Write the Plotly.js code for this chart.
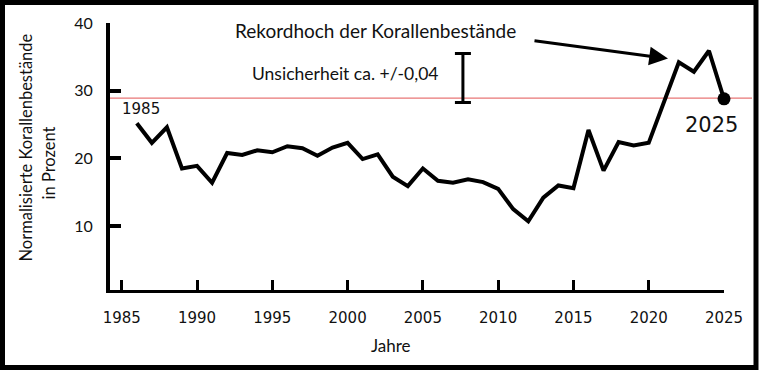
<!DOCTYPE html>
<html><head><meta charset="utf-8">
<script src="https://cdn.plot.ly/plotly-3.0.1.min.js"></script>
<style>html,body{margin:0;padding:0;background:#fff}#chart{width:759px;height:370px}</style>
</head><body><div id="chart"></div>
<script>
// ---- data ----
const years = [1986,1987,1988,1989,1990,1991,1992,1993,1994,1995,1996,1997,1998,1999,2000,2001,2002,2003,2004,2005,2006,2007,2008,2009,2010,2011,2012,2013,2014,2015,2016,2017,2018,2019,2020,2021,2022,2023,2024,2025];
const coralCover = [25.2,22.3,24.6,18.5,18.9,16.4,20.8,20.5,21.2,20.9,21.8,21.5,20.4,21.6,22.3,19.9,20.6,17.3,15.9,18.5,16.7,16.4,16.9,16.5,15.5,12.5,10.7,14.2,16.0,15.6,24.2,18.2,22.4,21.9,22.3,28.4,34.2,32.8,35.9,28.8];
const xTickVals = [1985,1990,1995,2000,2005,2010,2015,2020,2025];
const yTickVals = [10,20,30,40];
const referenceLevel = 28.9;
const uncertaintyX = [2007.66];
const uncertaintyMid = [31.86];
const uncertaintyHalf = [3.62];
const texts = {
  record: "Rekordhoch der Korallenbestände",
  uncertainty: "Unsicherheit ca. +/-0,04",
  yTitle1: "Normalisierte Korallenbestände",
  yTitle2: "in Prozent",
  xTitle: "Jahre",
  startLabel: "1985",
  endLabel: "2025"
};

// ---- layout ----
const W = 759, H = 370;
const m = {l:110, r:35, t:23, b:80};
const pw = W - m.l - m.r, ph = H - m.t - m.b;
const calib = "Lato, 'Open Sans', sans-serif";
const verd = "'DejaVu Sans', Verdana, sans-serif";
const last = years.length - 1;

const traces = [
  {x: years, y: coralCover, type:'scatter', mode:'lines', line:{color:'#000', width:4}, cliponaxis:false, hoverinfo:'skip'},
  {x: [years[last]], y: [coralCover[last]], type:'scatter', mode:'markers', marker:{color:'#000', size:13}, cliponaxis:false},
  {x: uncertaintyX, y: uncertaintyMid, type:'scatter', mode:'markers', marker:{color:'rgba(0,0,0,0)', size:1},
   error_y:{type:'data', array: uncertaintyHalf, visible:true, color:'#000', thickness:3, width:8}, cliponaxis:false}
];

const pxX = p => (p - m.l) / pw;       // page px -> paper x
const pxY = p => (H - m.b - p) / ph;   // page px -> paper y

const layout = {
  width: W, height: H, margin: m, showlegend:false,
  paper_bgcolor:'#fff', plot_bgcolor:'#fff',
  xaxis: {range:[1984.22, 2025], tickvals:xTickVals, ticks:'inside', ticklen:10, tickwidth:3, tickcolor:'#000',
          showline:true, linecolor:'#000', linewidth:3, showgrid:false, zeroline:false,
          tickfont:{family:verd, size:15, color:'#111'}, ticklabelstandoff:12},
  yaxis: {range:[0.56, 40], tickvals:yTickVals, ticks:'inside', ticklen:11, tickwidth:4, tickcolor:'#000',
          showline:true, linecolor:'#000', linewidth:4, showgrid:false, zeroline:false,
          tickfont:{family:calib, size:16, color:'#111'}, ticklabelstandoff:10},
  shapes: [
    {type:'line', xref:'paper', yref:'y', x0:0, x1:pxX(752), y0:referenceLevel, y1:referenceLevel,
     line:{color:'rgb(232,118,118)', width:1.3}, layer:'below'},
    {type:'rect', xref:'paper', yref:'paper', x0:pxX(2.5), x1:pxX(W-3), y0:pxY(2.5), y1:pxY(H-2.5),
     line:{color:'#000', width:5}, fillcolor:'rgba(0,0,0,0)'}
  ],
  annotations: [
    {xref:'x', yref:'y', x:2021.28, y:34.75, ax:-135, ay:-18, text:'', showarrow:true,
     arrowhead:2, arrowsize:1.25, arrowwidth:3, arrowcolor:'#000'},
    {xref:'paper', yref:'paper', x:pxX(375), y:pxY(31), text:texts.record, showarrow:false,
     font:{family:calib, size:19, color:'#111'}, xanchor:'center', yanchor:'middle'},
    {xref:'paper', yref:'paper', x:pxX(345), y:pxY(73), text:texts.uncertainty, showarrow:false,
     font:{family:calib, size:17.5, color:'#111'}, xanchor:'center', yanchor:'middle'},
    {xref:'x', yref:'y', x:1986.28, y:27.27, text:texts.startLabel, showarrow:false,
     font:{family:verd, size:15, color:'#111'}, xanchor:'center', yanchor:'middle'},
    {xref:'x', yref:'y', x:2024.16, y:24.95, text:texts.endLabel, showarrow:false,
     font:{family:verd, size:21, color:'#111'}, xanchor:'center', yanchor:'middle'},
    {xref:'paper', yref:'paper', x:pxX(25), y:pxY(147.5), text:texts.yTitle1, showarrow:false, textangle:-90,
     font:{family:calib, size:16.5, color:'#111'}, xanchor:'center', yanchor:'middle'},
    {xref:'paper', yref:'paper', x:pxX(48), y:pxY(163.5), text:texts.yTitle2, showarrow:false, textangle:-90,
     font:{family:calib, size:16.5, color:'#111'}, xanchor:'center', yanchor:'middle'},
    {xref:'paper', yref:'paper', x:pxX(391), y:pxY(345), text:texts.xTitle, showarrow:false,
     font:{family:calib, size:17, color:'#111'}, xanchor:'center', yanchor:'middle'}
  ]
};

Plotly.newPlot('chart', traces, layout, {staticPlot:true, displayModeBar:false});
</script></body></html>
